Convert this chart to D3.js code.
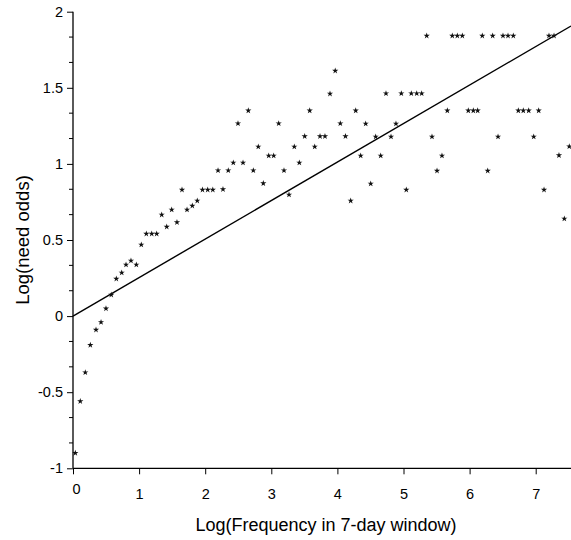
<!DOCTYPE html>
<html>
<head>
<meta charset="utf-8">
<script src="https://cdn.jsdelivr.net/npm/d3@7"></script>
<style>
  body { margin: 0; background: #fff; }
  text { font-family: "Liberation Sans", Arial, Helvetica, sans-serif; fill: #000; }
</style>
</head>
<body>
<svg id="chart" width="571" height="540"></svg>
<script>
// log frequency (x) and log need odds (y)
var logFreq = [
  0.035, 0.110, 0.186, 0.262, 0.348, 0.424, 0.499, 0.579, 0.655, 0.737,
  0.802, 0.877, 0.958, 1.033, 1.109, 1.191, 1.266, 1.342, 1.418, 1.493,
  1.573, 1.649, 1.725, 1.805, 1.880, 1.959, 2.038, 2.115, 2.194, 2.269,
  2.349, 2.425, 2.496, 2.572, 2.652, 2.728, 2.803, 2.879, 2.961, 3.036,
  3.112, 3.192, 3.268, 3.348, 3.424, 3.505, 3.581, 3.657, 3.737, 3.812,
  3.888, 3.967, 4.044, 4.122, 4.201, 4.277, 4.352, 4.428, 4.504, 4.579,
  4.655, 4.735, 4.811, 4.886, 4.967, 5.042, 5.118, 5.200, 5.275, 5.351,
  5.431, 5.507, 5.582, 5.663, 5.738, 5.814, 5.890, 5.980, 6.056, 6.122,
  6.192, 6.274, 6.349, 6.430, 6.505, 6.581, 6.661, 6.737, 6.812, 6.894,
  6.970, 7.045, 7.126, 7.201, 7.277, 7.352, 7.433, 7.508
];
var logOdds = [
  -0.90, -0.56, -0.37, -0.19, -0.09, -0.04, 0.05, 0.14, 0.245, 0.285,
  0.338, 0.364, 0.338, 0.469, 0.541, 0.541, 0.541, 0.666, 0.587, 0.699,
  0.616, 0.830, 0.699, 0.725, 0.758, 0.830, 0.830, 0.830, 0.957, 0.833,
  0.957, 1.008, 1.266, 1.008, 1.350, 0.957, 1.113, 0.872, 1.054, 1.054,
  1.266, 0.957, 0.798, 1.113, 1.008, 1.181, 1.350, 1.113, 1.181, 1.181,
  1.461, 1.612, 1.266, 1.181, 0.758, 1.350, 1.054, 1.264, 0.870, 1.179,
  1.054, 1.463, 1.179, 1.264, 1.463, 0.830, 1.463, 1.463, 1.463, 1.842,
  1.179, 0.955, 1.054, 1.350, 1.842, 1.842, 1.842, 1.350, 1.350, 1.350,
  1.842, 0.955, 1.842, 1.179, 1.842, 1.842, 1.842, 1.350, 1.350, 1.350,
  1.179, 1.350, 0.830, 1.842, 1.842, 1.056, 0.640, 1.115
];
var xTicks = [0, 1, 2, 3, 4, 5, 6, 7];
var yTicks = [-1, -0.5, 0, 0.5, 1, 1.5, 2];
var fitSlope = 0.253;

var svg = d3.select("#chart");

var x = d3.scaleLinear().domain([0, 7.534]).range([73, 571]);
var y = d3.scaleLinear().domain([-1, 2]).range([468.3, 11.7]);

// minor ticks on y, every 1/6
var yMinor = d3.range(-6, 13).map(function(k) { return k / 6; })
  .filter(function(v) { return Math.abs(v * 2 - Math.round(v * 2)) > 1e-6; });

svg.append("g")
  .selectAll("line")
  .data(yMinor)
  .enter().append("line")
  .attr("x1", 69).attr("x2", 73)
  .attr("y1", function(d) { return y(d); })
  .attr("y2", function(d) { return y(d); })
  .attr("stroke", "#000")
  .attr("stroke-width", 1);

var yAxis = svg.append("g")
  .attr("transform", "translate(73,0)")
  .call(d3.axisLeft(y).tickValues(yTicks).tickSize(6).tickPadding(4)
    .tickFormat(function(d) { return String(d); }));

var xAxis = svg.append("g")
  .attr("transform", "translate(0,468.3)")
  .call(d3.axisBottom(x).tickValues(xTicks).tickSize(6).tickPadding(14)
    .tickFormat(function(d) { return String(d); }));

[yAxis, xAxis].forEach(function(a) {
  a.select(".domain").attr("stroke", "#000").attr("stroke-width", 1.3);
  a.selectAll(".tick line").attr("stroke", "#000").attr("stroke-width", 1);
  a.selectAll(".tick text")
    .style("font-family", "'Liberation Sans', Arial, sans-serif")
    .style("font-size", "14.5px")
    .attr("fill", "#000");
});
xAxis.select(".domain").attr("d", "M73,0H571");
yAxis.select(".domain").attr("d", "M0," + y(-1) + "V" + y(2));

// the 0 label sits a little higher and to the right
xAxis.selectAll(".tick text")
  .filter(function(d) { return d === 0; })
  .attr("dx", "3").attr("dy", "0.38em");

// fitted line through the origin
svg.append("line")
  .attr("x1", x(0)).attr("y1", y(0))
  .attr("x2", x(7.534)).attr("y2", y(7.534 * fitSlope))
  .attr("stroke", "#000")
  .attr("stroke-width", 1.4);

var star = d3.symbol().type(d3.symbolStar).size(12);

svg.append("g")
  .selectAll("path")
  .data(logFreq)
  .enter().append("path")
  .attr("d", star)
  .attr("transform", function(d, i) {
    return "translate(" + x(d) + "," + y(logOdds[i]) + ")";
  })
  .attr("fill", "#111");

svg.append("text")
  .attr("x", 326)
  .attr("y", 531)
  .attr("text-anchor", "middle")
  .style("font-size", "18px")
  .text("Log(Frequency in 7-day window)");

svg.append("text")
  .attr("transform", "translate(29,240) rotate(-90)")
  .attr("text-anchor", "middle")
  .style("font-size", "18.5px")
  .text("Log(need odds)");
</script>
</body>
</html>
